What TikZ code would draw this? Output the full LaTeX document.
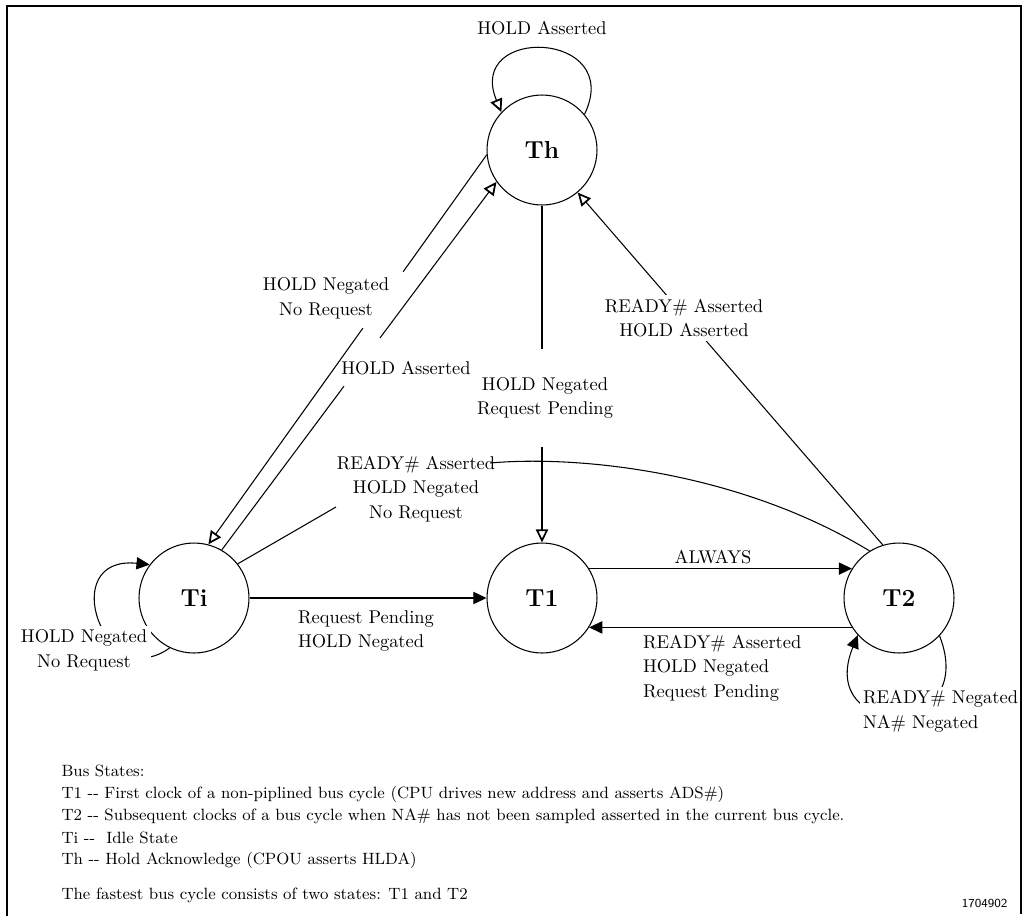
\documentclass[tikz,border=0pt]{standalone}
\usetikzlibrary{arrows.meta,calc}
\begin{document}
\begin{tikzpicture}[x=0.02cm,y=-0.02cm,line width=0.6pt,
    state/.style={draw,circle,minimum size=2.2cm,inner sep=0pt,font=\fontsize{14}{16}\selectfont\bfseries},
    lbl/.style={align=center,inner sep=2pt,font=\fontsize{10.5}{14}\selectfont},
    cover/.style={lbl,fill=white},
    legend/.style={anchor=west,inner sep=0pt,font=\fontsize{9.3}{12}\selectfont},
    fwd/.style={-{Triangle[length=7.5pt,width=7pt]}},
    opn/.style={-{Triangle[open,length=7.5pt,width=7pt,line width=1pt]}}]
    \useasboundingbox (0,0) rectangle (1024,923);

    \node[state] (Th) at (542,150) {Th};
    \node[state] (Ti) at (194,598) {Ti};
    \node[state] (T1) at (542,598) {T1};
    \node[state] (T2) at (899,598) {T2};

    % self loops
    \draw[opn] (Th.40) .. controls (625,30) and (465,25) .. (Th.137);
    \draw[fwd] (Ti.244) .. controls (105,695) and (55,555) .. (Ti.143);
    \draw[fwd] (T2.317) .. controls (980,740) and (815,740) .. (T2.222);

    % Th <-> Ti, both broken where their labels sit
    \draw (Th.185) -- ($(Th.185)!.30!(Ti.75)$);
    \draw[opn] ($(Th.185)!.445!(Ti.75)$) -- (Ti.75);
    \draw (Ti.60) -- ($(Ti.60)!.445!(Th.215)$);
    \draw[opn] ($(Ti.60)!.576!(Th.215)$) -- (Th.215);

    % transitions
    \draw[opn] (Th) -- (T1);
    \draw[opn] (T2.107) -- (Th.310);
    \draw[fwd] (Ti) -- (T1);
    \draw[fwd] (T1.32) -- (T2.148);
    \draw[fwd] (T2.212) -- (T1.328);

    % labels (white ones break the lines)
    \node[lbl] (lhold) at (542,28) {HOLD Asserted};
    \node[cover,inner ysep=16pt] (lpend) at (545,398) {HOLD Negated\\Request Pending};
    \node[lbl] (lnoreq) at (326,298) {HOLD Negated\\No Request};
    \node[lbl] (lasrt) at (406,368) {HOLD Asserted};
    \node[cover] (lrdyh) at (684,318) {READY\# Asserted\\HOLD Asserted};
    \node[lbl] (lrdyi) at (416,489) {READY\# Asserted\\HOLD Negated\\No Request};
    \node[lbl,align=left,anchor=west] (lreq) at (294,631) {Request Pending\\HOLD Negated};
    \node[lbl] (lalw) at (713,557) {ALWAYS};
    \node[lbl,align=left,anchor=west] (lret) at (639,668) {READY\# Asserted\\HOLD Negated\\Request Pending};
    \node[cover,align=left,anchor=west] (lwait) at (859,711) {READY\# Negated\\NA\# Negated};
    \node[cover] (lidle) at (84,650) {HOLD Negated\\No Request};

    % T2 back to Ti, broken by its label
    \coordinate (rdyend) at (490,463);
    \coordinate (rdyfoot) at (336,507);
    \draw (T2.122) .. controls (740,472) and (580,455) .. (rdyend);
    \draw (rdyfoot) -- (Ti.38);

    % legend
    \node[legend] (bus) at (61,771) {Bus States:};
    \node[legend] (d1) at (61,794) {T1 -{}- First clock of a non-piplined bus cycle (CPU drives new address and asserts ADS\#)};
    \node[legend] (d2) at (61,816) {T2 -{}- Subsequent clocks of a bus cycle when NA\# has not been sampled asserted in the current bus cycle.};
    \node[legend] (di) at (61,838) {Ti -{}-\ \ Idle State};
    \node[legend] (dh) at (61,860) {Th -{}- Hold Acknowledge (CPOU asserts HLDA)};
    \node[legend] (fast) at (61,895) {The fastest bus cycle consists of two states: T1 and T2};
    \node[anchor=east,inner sep=0pt,font=\sffamily\fontsize{7}{8}\selectfont] (fig) at (1008,903) {1704902};

    % frame
    \draw[line width=1.2pt] (7,916) -- (7,6) -- (1021,6) -- (1021,914);
\end{tikzpicture}
\end{document}
